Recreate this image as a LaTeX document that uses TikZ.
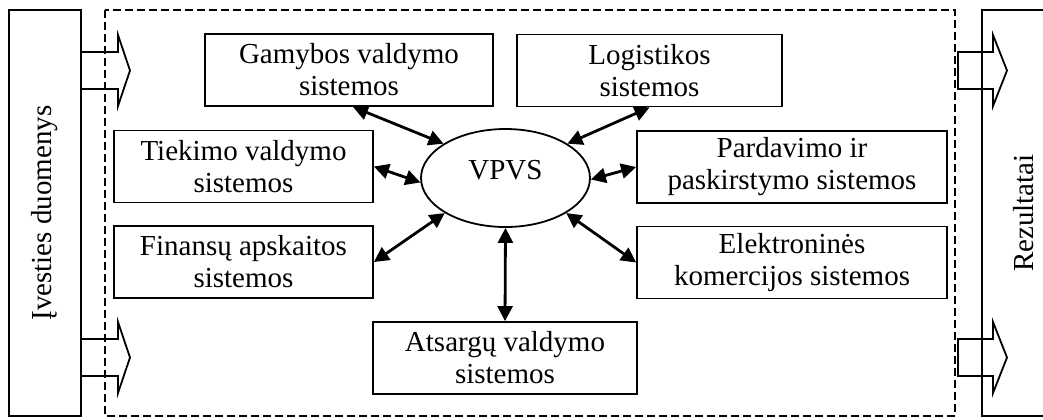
\documentclass[tikz,border=0pt]{standalone}
\usepackage{fontspec}
\setmainfont{Liberation Serif}
\usetikzlibrary{shapes.geometric,arrows.meta}

\begin{document}
\begin{tikzpicture}[
            x=0.5pt, y=-0.5pt,
            font=\fontsize{14.5}{16}\selectfont,
            sys/.style={rectangle, draw, line width=0.9pt, align=center, inner sep=0pt, minimum height=36pt},
            side/.style={rectangle, draw, line width=0.9pt, rotate=90, minimum width=203pt, inner sep=0pt},
            link/.style={{Triangle[length=7.5pt,width=7.5pt]}-{Triangle[length=7.5pt,width=7.5pt]}, line width=1.4pt},
            flow/.style={draw, line width=0.9pt, line join=miter}
        ]
            \useasboundingbox (0,0) rectangle (1043,419);
            \clip (0,0) rectangle (1043,419);

            % input / output columns
            \node[side, minimum height=36pt] (inbox) at (45,213) {Įvesties duomenys};
            \node[side, minimum height=42pt] (outbox) at (1024,213) {Rezultatai};
            \draw[line width=0.8pt, dash pattern=on 4pt off 2pt] (105,10) rectangle (955,416);

            \foreach \ym in {70.5,357.5} {
                \draw[flow] (82,\ym-18.5) -- (118,\ym-18.5) -- (118,\ym-35.5) -- (130,\ym) -- (118,\ym+35.5) -- (118,\ym+18.5) -- (82,\ym+18.5);
                \draw[flow] (958,\ym-18.5) -- (993,\ym-18.5) -- (993,\ym-35.5) -- (1007,\ym) -- (993,\ym+35.5) -- (993,\ym+18.5) -- (958,\ym+18.5) -- cycle;
            }

            % systems
            \node[ellipse, draw, line width=0.9pt, minimum width=84.5pt, minimum height=49pt, inner sep=0pt, text depth=8pt] (vpvs) at (505.5,178) {VPVS};
            \node[sys, minimum width=144pt] (gam) at (349,70) {Gamybos valdymo\\sistemos};
            \node[sys, minimum width=132.5pt] (log) at (649.5,70.5) {Logistikos\\sistemos};
            \node[sys, minimum width=129.5pt] (tie) at (243.5,166.5) {Tiekimo valdymo\\sistemos};
            \node[sys, minimum width=155pt] (par) at (792,167) {Pardavimo ir\\paskirstymo sistemos};
            \node[sys, minimum width=129.5pt] (fin) at (243.5,262) {Finansų apskaitos\\sistemos};
            \node[sys, minimum width=155pt] (ele) at (792,262.5) {Elektroninės\\komercijos sistemos};
            \node[sys, minimum width=132pt] (ats) at (505,358) {Atsargų valdymo\\sistemos};

            \draw[link] ([xshift=2pt]gam.south) -- (vpvs.151);
            \draw[link] (log.south) -- (vpvs.29);
            \draw[link] (tie.east) -- (vpvs.183);
            \draw[link] (par.west) -- (vpvs.-1);
            \draw[link] (fin.east) -- (vpvs.210);
            \draw[link] (ele.west) -- (vpvs.-30);
            \draw[link] (ats.north) -- (vpvs.south);
        \end{tikzpicture}
\end{document}
